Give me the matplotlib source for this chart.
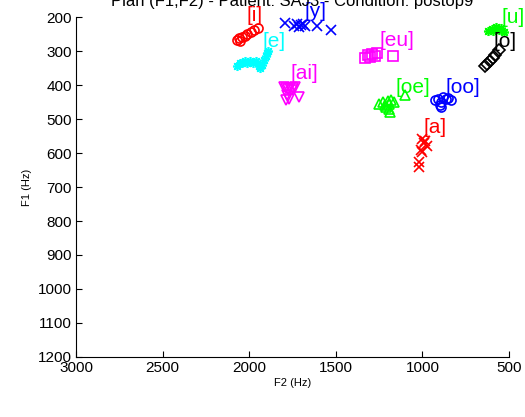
import matplotlib
matplotlib.use('Agg')
import matplotlib.pyplot as plt

# Vowel formant data (F2, F1) in Hz
i_f2 = [2070, 2055, 2040, 2025, 2010, 1990, 1970, 1950, 2060]
i_f1 = [268, 272, 260, 255, 250, 244, 238, 233, 262]

y_f2 = [1795, 1740, 1725, 1710, 1700, 1690, 1680, 1610, 1530]
y_f1 = [218, 225, 222, 228, 224, 220, 226, 225, 238]

e_f2 = [2070, 2055, 2040, 2025, 2010, 1995, 1980, 1960, 1945, 1935, 1925, 1915, 1905, 1895, 1890]
e_f1 = [345, 335, 335, 330, 335, 330, 335, 330, 345, 350, 340, 325, 315, 305, 300]

ai_f2 = [1800, 1790, 1775, 1765, 1755, 1745, 1735, 1780, 1770, 1710, 1790]
ai_f1 = [405, 410, 412, 408, 415, 410, 405, 430, 440, 435, 445]

eu_f2 = [1330, 1315, 1300, 1290, 1275, 1260, 1170]
eu_f1 = [320, 312, 318, 308, 315, 305, 315]

oe_f2 = [1250, 1230, 1215, 1200, 1190, 1180, 1165, 1195, 1185, 1100, 1210]
oe_f1 = [455, 450, 460, 448, 455, 445, 450, 470, 480, 430, 465]

oo_f2 = [930, 910, 895, 880, 865, 850, 835, 900, 890]
oo_f1 = [445, 440, 450, 435, 440, 438, 445, 460, 465]

a_f2 = [1000, 990, 1010, 1005, 975, 985, 1020, 1020]
a_f1 = [560, 570, 590, 598, 580, 565, 625, 640]

u_f2 = [620, 600, 590, 575, 560, 545, 530]
u_f1 = [240, 235, 242, 230, 238, 232, 245]

o_f2 = [640, 625, 610, 595, 580, 560]
o_f1 = [345, 338, 330, 322, 312, 298]

# label text and its anchor (F2, F1)
labels = ['[i]', '[y]', '[e]', '[ai]', '[eu]', '[oe]', '[oo]', '[a]', '[u]', '[o]']
label_f2 = [2018, 1678, 1926, 1764, 1250, 1158, 864, 996, 546, 592]
label_f1 = [197, 185, 273, 365, 268, 406, 406, 524, 200, 273]

plt.rcParams['font.family'] = ['Liberation Sans', 'DejaVu Sans']

fig = plt.figure(figsize=(5.25, 4.17), dpi=100)
ax = fig.add_axes([0.1448, 0.1439, 0.8247, 0.8153])

red, blue, cyan, mag, green = '#ff0000', '#0000ff', '#00ffff', '#ff00ff', '#00ff00'
star = (8, 2, 0)  # asterisk like MATLAB '*'
series = [
    (i_f2, i_f1, 'o', red, '[i]'),
    (y_f2, y_f1, 'x', blue, '[y]'),
    (e_f2, e_f1, star, cyan, '[e]'),
    (ai_f2, ai_f1, 'v', mag, '[ai]'),
    (eu_f2, eu_f1, 's', mag, '[eu]'),
    (oe_f2, oe_f1, '^', green, '[oe]'),
    (oo_f2, oo_f1, 'o', blue, '[oo]'),
    (a_f2, a_f1, 'x', red, '[a]'),
    (u_f2, u_f1, star, green, '[u]'),
    (o_f2, o_f1, 'D', 'k', '[o]'),
]
colors = {}
for f2, f1, mk, c, name in series:
    ax.plot(f2, f1, linestyle='none', marker=mk, markersize=6.5, mfc='none',
            mec=c, mew=1.2, clip_on=False)
    colors[name] = c

for lab, x, y in zip(labels, label_f2, label_f1):
    ax.text(x, y, lab, color=colors[lab], fontsize=15, ha='left', va='center', clip_on=False)

ax.set_xlim(3000, 500)
ax.set_ylim(1200, 200)
ax.set_xticks([3000, 2500, 2000, 1500, 1000, 500])
ax.set_yticks(range(200, 1300, 100))
ax.spines['top'].set_visible(False)
ax.spines['right'].set_visible(False)
ax.tick_params(direction='in', length=4, labelsize=11, pad=3)
ax.set_xlabel('F2 (Hz)', fontsize=8, labelpad=2)
ax.set_ylabel('F1 (Hz)', fontsize=8, labelpad=4)
ax.set_title('Plan (F1,F2) - Patient: SAJ3 - Condition: postop9', fontsize=12, pad=8)

fig.savefig('out.png', dpi=100)
